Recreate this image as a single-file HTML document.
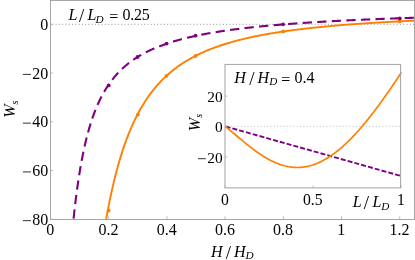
<!DOCTYPE html>
<html><head><meta charset="utf-8"><title>plot</title>
<style>
html,body{margin:0;padding:0;background:#fff;}
body{width:415px;height:260px;position:relative;overflow:hidden;font-family:"Liberation Serif",serif;}
svg text{font-family:"Liberation Serif",serif;fill:#000;}
</style></head><body>
<svg width="415" height="260" viewBox="0 0 415 260" style="position:absolute;left:0;top:0;will-change:transform;">
<defs><clipPath id="cm"><rect x="50.5" y="0.5" width="364.0" height="219.0"/></clipPath><clipPath id="ci"><rect x="225.0" y="64.4" width="176.8" height="123.5"/></clipPath></defs>
<line x1="50.5" y1="24.3" x2="414.5" y2="24.3" stroke="#929292" stroke-width="1" stroke-dasharray="1 2.28" stroke-dashoffset="1.45"/>
<g clip-path="url(#cm)" fill="none">
<path d="M72.25,232.11 L72.94,224.98 L73.63,218.24 L74.32,211.85 L75.00,205.79 L75.69,200.05 L76.38,194.60 L77.07,189.42 L77.76,184.49 L78.45,179.80 L79.14,175.33 L79.83,171.07 L80.51,167.01 L81.20,163.12 L81.89,159.41 L82.58,155.86 L83.27,152.46 L83.96,149.20 L84.65,146.07 L85.33,143.07 L86.02,140.19 L86.71,137.43 L87.40,134.77 L88.09,132.21 L88.78,129.74 L89.47,127.37 L90.16,125.08 L90.84,122.87 L91.53,120.74 L92.22,118.69 L92.91,116.70 L93.60,114.78 L94.29,112.92 L94.98,111.12 L95.67,109.38 L96.35,107.70 L97.04,106.07 L97.73,104.48 L98.42,102.95 L99.11,101.46 L99.80,100.01 L100.49,98.61 L101.17,97.25 L101.86,95.92 L102.55,94.63 L103.24,93.38 L103.93,92.16 L104.62,90.98 L105.31,89.82 L106.00,88.70 L106.68,87.60 L107.37,86.54 L108.06,85.50 L108.75,84.48 L109.44,83.49 L110.13,82.53 L110.82,81.59 L111.50,80.67 L112.19,79.77 L112.88,78.90 L113.57,78.04 L114.26,77.20 L114.95,76.38 L115.64,75.58 L116.33,74.80 L117.01,74.04 L117.70,73.29 L118.39,72.56 L119.08,71.84 L119.77,71.14 L120.46,70.45 L121.15,69.78 L121.83,69.12 L122.52,68.47 L123.21,67.84 L123.90,67.22 L124.59,66.61 L125.28,66.02 L125.97,65.43 L126.66,64.86 L127.34,64.30 L128.03,63.74 L128.72,63.20 L129.41,62.67 L130.10,62.15 L130.79,61.63 L131.48,61.13 L132.16,60.64 L132.85,60.15 L133.54,59.67 L134.23,59.20 L134.92,58.74 L135.61,58.29 L136.30,57.84 L136.99,57.41 L137.67,56.97 L138.36,56.55 L139.05,56.13 L139.74,55.72 L140.43,55.32 L141.12,54.92 L141.81,54.53 L142.50,54.15 L143.18,53.77 L143.87,53.40 L144.56,53.03 L145.25,52.67 L145.94,52.31 L146.63,51.96 L147.32,51.62 L148.00,51.28 L148.69,50.94 L149.38,50.61 L150.07,50.29 L150.76,49.97 L151.45,49.65 L152.14,49.34 L152.83,49.03 L153.51,48.73 L154.20,48.43 L154.89,48.14 L155.58,47.85 L156.27,47.56 L156.96,47.28 L157.65,47.00 L158.33,46.72 L159.02,46.45 L159.71,46.18 L160.40,45.92 L161.09,45.66 L161.78,45.40 L162.47,45.15 L163.16,44.90 L163.84,44.65 L164.53,44.41 L165.22,44.16 L165.91,43.93 L166.60,43.69 L167.29,43.46 L167.98,43.23 L168.66,43.00 L169.35,42.78 L170.04,42.56 L170.73,42.34 L171.42,42.12 L172.11,41.91 L172.80,41.70 L173.49,41.49 L174.17,41.28 L174.86,41.08 L175.55,40.88 L176.24,40.68 L176.93,40.48 L177.62,40.28 L178.31,40.09 L178.99,39.90 L179.68,39.71 L180.37,39.53 L181.06,39.34 L181.75,39.16 L182.44,38.98 L183.13,38.80 L183.82,38.63 L184.50,38.45 L185.19,38.28 L185.88,38.11 L186.57,37.94 L187.26,37.77 L187.95,37.61 L188.64,37.45 L189.33,37.28 L190.01,37.12 L190.70,36.96 L191.39,36.81 L192.08,36.65 L192.77,36.50 L193.46,36.35 L194.15,36.20 L194.83,36.05 L195.52,35.90 L196.21,35.75 L196.90,35.61 L197.59,35.46 L198.28,35.32 L198.97,35.18 L199.66,35.04 L200.34,34.90 L201.03,34.77 L201.72,34.63 L202.41,34.50 L203.10,34.36 L203.79,34.23 L204.48,34.10 L205.16,33.97 L205.85,33.85 L206.54,33.72 L207.23,33.59 L207.92,33.47 L208.61,33.34 L209.30,33.22 L209.99,33.10 L210.67,32.98 L211.36,32.86 L212.05,32.74 L212.74,32.63 L213.43,32.51 L214.12,32.40 L214.81,32.28 L215.49,32.17 L216.18,32.06 L216.87,31.95 L217.56,31.84 L218.25,31.73 L218.94,31.62 L219.63,31.51 L220.32,31.41 L221.00,31.30 L221.69,31.20 L222.38,31.09 L223.07,30.99 L223.76,30.89 L224.45,30.79 L225.14,30.68 L225.83,30.59 L226.51,30.49 L227.20,30.39 L227.89,30.29 L228.58,30.20 L229.27,30.10 L229.96,30.00 L230.65,29.91 L231.33,29.82 L232.02,29.72 L232.71,29.63 L233.40,29.54 L234.09,29.45 L234.78,29.36 L235.47,29.27 L236.16,29.18 L236.84,29.10 L237.53,29.01 L238.22,28.92 L238.91,28.84 L239.60,28.75 L240.29,28.67 L240.98,28.58 L241.66,28.50 L242.35,28.42 L243.04,28.34 L243.73,28.25 L244.42,28.17 L245.11,28.09 L245.80,28.01 L246.49,27.93 L247.17,27.86 L247.86,27.78 L248.55,27.70 L249.24,27.62 L249.93,27.55 L250.62,27.47 L251.31,27.40 L251.99,27.32 L252.68,27.25 L253.37,27.18 L254.06,27.10 L254.75,27.03 L255.44,26.96 L256.13,26.89 L256.82,26.81 L257.50,26.74 L258.19,26.67 L258.88,26.60 L259.57,26.54 L260.26,26.47 L260.95,26.40 L261.64,26.33 L262.32,26.26 L263.01,26.20 L263.70,26.13 L264.39,26.06 L265.08,26.00 L265.77,25.93 L266.46,25.87 L267.15,25.80 L267.83,25.74 L268.52,25.68 L269.21,25.61 L269.90,25.55 L270.59,25.49 L271.28,25.43 L271.97,25.37 L272.66,25.31 L273.34,25.25 L274.03,25.18 L274.72,25.13 L275.41,25.07 L276.10,25.01 L276.79,24.95 L277.48,24.89 L278.16,24.83 L278.85,24.77 L279.54,24.72 L280.23,24.66 L280.92,24.60 L281.61,24.55 L282.30,24.49 L282.99,24.44 L283.67,24.38 L284.36,24.33 L285.05,24.27 L285.74,24.22 L286.43,24.16 L287.12,24.11 L287.81,24.06 L288.49,24.00 L289.18,23.95 L289.87,23.90 L290.56,23.85 L291.25,23.79 L291.94,23.74 L292.63,23.69 L293.32,23.64 L294.00,23.59 L294.69,23.54 L295.38,23.49 L296.07,23.44 L296.76,23.39 L297.45,23.34 L298.14,23.29 L298.82,23.25 L299.51,23.20 L300.20,23.15 L300.89,23.10 L301.58,23.05 L302.27,23.01 L302.96,22.96 L303.65,22.91 L304.33,22.87 L305.02,22.82 L305.71,22.78 L306.40,22.73 L307.09,22.68 L307.78,22.64 L308.47,22.59 L309.16,22.55 L309.84,22.51 L310.53,22.46 L311.22,22.42 L311.91,22.37 L312.60,22.33 L313.29,22.29 L313.98,22.24 L314.66,22.20 L315.35,22.16 L316.04,22.12 L316.73,22.08 L317.42,22.03 L318.11,21.99 L318.80,21.95 L319.49,21.91 L320.17,21.87 L320.86,21.83 L321.55,21.79 L322.24,21.75 L322.93,21.71 L323.62,21.67 L324.31,21.63 L324.99,21.59 L325.68,21.55 L326.37,21.51 L327.06,21.47 L327.75,21.43 L328.44,21.39 L329.13,21.36 L329.82,21.32 L330.50,21.28 L331.19,21.24 L331.88,21.20 L332.57,21.17 L333.26,21.13 L333.95,21.09 L334.64,21.06 L335.32,21.02 L336.01,20.98 L336.70,20.95 L337.39,20.91 L338.08,20.88 L338.77,20.84 L339.46,20.80 L340.15,20.77 L340.83,20.73 L341.52,20.70 L342.21,20.66 L342.90,20.63 L343.59,20.59 L344.28,20.56 L344.97,20.53 L345.65,20.49 L346.34,20.46 L347.03,20.42 L347.72,20.39 L348.41,20.36 L349.10,20.32 L349.79,20.29 L350.48,20.26 L351.16,20.23 L351.85,20.19 L352.54,20.16 L353.23,20.13 L353.92,20.10 L354.61,20.06 L355.30,20.03 L355.99,20.00 L356.67,19.97 L357.36,19.94 L358.05,19.91 L358.74,19.88 L359.43,19.84 L360.12,19.81 L360.81,19.78 L361.49,19.75 L362.18,19.72 L362.87,19.69 L363.56,19.66 L364.25,19.63 L364.94,19.60 L365.63,19.57 L366.32,19.54 L367.00,19.51 L367.69,19.48 L368.38,19.45 L369.07,19.43 L369.76,19.40 L370.45,19.37 L371.14,19.34 L371.82,19.31 L372.51,19.28 L373.20,19.25 L373.89,19.23 L374.58,19.20 L375.27,19.17 L375.96,19.14 L376.65,19.11 L377.33,19.09 L378.02,19.06 L378.71,19.03 L379.40,19.00 L380.09,18.98 L380.78,18.95 L381.47,18.92 L382.15,18.90 L382.84,18.87 L383.53,18.84 L384.22,18.82 L384.91,18.79 L385.60,18.76 L386.29,18.74 L386.98,18.71 L387.66,18.69 L388.35,18.66 L389.04,18.64 L389.73,18.61 L390.42,18.58 L391.11,18.56 L391.80,18.53 L392.48,18.51 L393.17,18.48 L393.86,18.46 L394.55,18.43 L395.24,18.41 L395.93,18.38 L396.62,18.36 L397.31,18.34 L397.99,18.31 L398.68,18.29 L399.37,18.26 L400.06,18.24 L400.75,18.21 L401.44,18.19 L402.13,18.17 L402.82,18.14 L403.50,18.12 L404.19,18.10 L404.88,18.07 L405.57,18.05 L406.26,18.03 L406.95,18.00 L407.64,17.98 L408.32,17.96 L409.01,17.93 L409.70,17.91 L410.39,17.89 L411.08,17.87 L411.77,17.84 L412.46,17.82 L413.15,17.80 L413.83,17.78 L414.52,17.75 L415.21,17.73 L415.90,17.71" stroke="#800080" stroke-width="2.1" stroke-dasharray="9.3 5.287" stroke-dashoffset="1.08"/>
<path d="M104.15,230.73 L104.93,226.07 L105.71,221.56 L106.49,217.18 L107.28,212.94 L108.06,208.83 L108.84,204.84 L109.62,200.97 L110.40,197.21 L111.18,193.57 L111.96,190.03 L112.74,186.60 L113.53,183.26 L114.31,180.02 L115.09,176.87 L115.87,173.80 L116.65,170.83 L117.43,167.93 L118.21,165.12 L119.00,162.38 L119.78,159.72 L120.56,157.12 L121.34,154.60 L122.12,152.14 L122.90,149.75 L123.68,147.42 L124.46,145.15 L125.25,142.93 L126.03,140.77 L126.81,138.67 L127.59,136.62 L128.37,134.62 L129.15,132.67 L129.93,130.76 L130.72,128.91 L131.50,127.09 L132.28,125.32 L133.06,123.59 L133.84,121.90 L134.62,120.25 L135.40,118.64 L136.18,117.07 L136.97,115.53 L137.75,114.03 L138.53,112.56 L139.31,111.12 L140.09,109.71 L140.87,108.34 L141.65,106.99 L142.44,105.68 L143.22,104.39 L144.00,103.13 L144.78,101.89 L145.56,100.68 L146.34,99.50 L147.12,98.34 L147.90,97.20 L148.69,96.09 L149.47,95.00 L150.25,93.93 L151.03,92.89 L151.81,91.86 L152.59,90.86 L153.37,89.87 L154.16,88.90 L154.94,87.95 L155.72,87.02 L156.50,86.11 L157.28,85.21 L158.06,84.34 L158.84,83.47 L159.62,82.63 L160.41,81.80 L161.19,80.98 L161.97,80.18 L162.75,79.39 L163.53,78.62 L164.31,77.86 L165.09,77.12 L165.87,76.38 L166.66,75.67 L167.44,74.96 L168.22,74.26 L169.00,73.58 L169.78,72.91 L170.56,72.25 L171.34,71.60 L172.13,70.96 L172.91,70.34 L173.69,69.72 L174.47,69.11 L175.25,68.52 L176.03,67.93 L176.81,67.35 L177.59,66.78 L178.38,66.22 L179.16,65.67 L179.94,65.13 L180.72,64.60 L181.50,64.07 L182.28,63.56 L183.06,63.05 L183.85,62.55 L184.63,62.05 L185.41,61.57 L186.19,61.09 L186.97,60.62 L187.75,60.15 L188.53,59.70 L189.31,59.25 L190.10,58.80 L190.88,58.36 L191.66,57.93 L192.44,57.51 L193.22,57.09 L194.00,56.68 L194.78,56.27 L195.57,55.87 L196.35,55.47 L197.13,55.08 L197.91,54.70 L198.69,54.32 L199.47,53.94 L200.25,53.57 L201.03,53.21 L201.82,52.85 L202.60,52.50 L203.38,52.15 L204.16,51.80 L204.94,51.46 L205.72,51.13 L206.50,50.80 L207.29,50.47 L208.07,50.15 L208.85,49.83 L209.63,49.51 L210.41,49.20 L211.19,48.90 L211.97,48.60 L212.75,48.30 L213.54,48.00 L214.32,47.71 L215.10,47.42 L215.88,47.14 L216.66,46.86 L217.44,46.58 L218.22,46.31 L219.01,46.04 L219.79,45.77 L220.57,45.51 L221.35,45.25 L222.13,44.99 L222.91,44.74 L223.69,44.49 L224.47,44.24 L225.26,43.99 L226.04,43.75 L226.82,43.51 L227.60,43.27 L228.38,43.04 L229.16,42.81 L229.94,42.58 L230.73,42.35 L231.51,42.13 L232.29,41.91 L233.07,41.69 L233.85,41.47 L234.63,41.26 L235.41,41.05 L236.19,40.84 L236.98,40.63 L237.76,40.43 L238.54,40.23 L239.32,40.03 L240.10,39.83 L240.88,39.63 L241.66,39.44 L242.45,39.25 L243.23,39.06 L244.01,38.87 L244.79,38.69 L245.57,38.50 L246.35,38.32 L247.13,38.14 L247.91,37.96 L248.70,37.79 L249.48,37.61 L250.26,37.44 L251.04,37.27 L251.82,37.10 L252.60,36.94 L253.38,36.77 L254.17,36.61 L254.95,36.44 L255.73,36.28 L256.51,36.13 L257.29,35.97 L258.07,35.81 L258.85,35.66 L259.63,35.51 L260.42,35.35 L261.20,35.20 L261.98,35.06 L262.76,34.91 L263.54,34.76 L264.32,34.62 L265.10,34.48 L265.88,34.34 L266.67,34.20 L267.45,34.06 L268.23,33.92 L269.01,33.79 L269.79,33.65 L270.57,33.52 L271.35,33.39 L272.14,33.25 L272.92,33.12 L273.70,33.00 L274.48,32.87 L275.26,32.74 L276.04,32.62 L276.82,32.49 L277.60,32.37 L278.39,32.25 L279.17,32.13 L279.95,32.01 L280.73,31.89 L281.51,31.77 L282.29,31.66 L283.07,31.54 L283.86,31.43 L284.64,31.31 L285.42,31.20 L286.20,31.09 L286.98,30.98 L287.76,30.87 L288.54,30.76 L289.32,30.66 L290.11,30.55 L290.89,30.44 L291.67,30.34 L292.45,30.23 L293.23,30.13 L294.01,30.03 L294.79,29.93 L295.58,29.83 L296.36,29.73 L297.14,29.63 L297.92,29.53 L298.70,29.43 L299.48,29.34 L300.26,29.24 L301.04,29.15 L301.83,29.05 L302.61,28.96 L303.39,28.87 L304.17,28.78 L304.95,28.68 L305.73,28.59 L306.51,28.50 L307.30,28.42 L308.08,28.33 L308.86,28.24 L309.64,28.15 L310.42,28.07 L311.20,27.98 L311.98,27.90 L312.76,27.81 L313.55,27.73 L314.33,27.65 L315.11,27.56 L315.89,27.48 L316.67,27.40 L317.45,27.32 L318.23,27.24 L319.02,27.16 L319.80,27.09 L320.58,27.01 L321.36,26.93 L322.14,26.85 L322.92,26.78 L323.70,26.70 L324.48,26.63 L325.27,26.55 L326.05,26.48 L326.83,26.41 L327.61,26.33 L328.39,26.26 L329.17,26.19 L329.95,26.12 L330.74,26.05 L331.52,25.98 L332.30,25.91 L333.08,25.84 L333.86,25.77 L334.64,25.70 L335.42,25.63 L336.20,25.57 L336.99,25.50 L337.77,25.43 L338.55,25.37 L339.33,25.30 L340.11,25.24 L340.89,25.17 L341.67,25.11 L342.46,25.05 L343.24,24.98 L344.02,24.92 L344.80,24.86 L345.58,24.80 L346.36,24.73 L347.14,24.67 L347.92,24.61 L348.71,24.55 L349.49,24.49 L350.27,24.43 L351.05,24.38 L351.83,24.32 L352.61,24.26 L353.39,24.20 L354.18,24.14 L354.96,24.09 L355.74,24.03 L356.52,23.97 L357.30,23.92 L358.08,23.86 L358.86,23.81 L359.64,23.75 L360.43,23.70 L361.21,23.65 L361.99,23.59 L362.77,23.54 L363.55,23.49 L364.33,23.43 L365.11,23.38 L365.89,23.33 L366.68,23.28 L367.46,23.23 L368.24,23.18 L369.02,23.12 L369.80,23.07 L370.58,23.02 L371.36,22.97 L372.15,22.93 L372.93,22.88 L373.71,22.83 L374.49,22.78 L375.27,22.73 L376.05,22.68 L376.83,22.64 L377.61,22.59 L378.40,22.54 L379.18,22.50 L379.96,22.45 L380.74,22.40 L381.52,22.36 L382.30,22.31 L383.08,22.27 L383.87,22.22 L384.65,22.18 L385.43,22.13 L386.21,22.09 L386.99,22.04 L387.77,22.00 L388.55,21.96 L389.33,21.91 L390.12,21.87 L390.90,21.83 L391.68,21.79 L392.46,21.74 L393.24,21.70 L394.02,21.66 L394.80,21.62 L395.59,21.58 L396.37,21.54 L397.15,21.50 L397.93,21.46 L398.71,21.42 L399.49,21.38 L400.27,21.34 L401.05,21.30 L401.84,21.26 L402.62,21.22 L403.40,21.18 L404.18,21.14 L404.96,21.10 L405.74,21.07 L406.52,21.03 L407.31,20.99 L408.09,20.95 L408.87,20.92 L409.65,20.88 L410.43,20.84 L411.21,20.80 L411.99,20.77 L412.77,20.73 L413.56,20.70 L414.34,20.66 L415.12,20.62 L415.90,20.59" stroke="#ff8000" stroke-width="1.9"/>
<circle cx="108.6" cy="210.6" r="1.9" fill="#ff8000"/>
<circle cx="137.9" cy="114.7" r="1.9" fill="#ff8000"/>
<circle cx="166.5" cy="75.8" r="1.9" fill="#ff8000"/>
<circle cx="195.6" cy="56.0" r="1.9" fill="#ff8000"/>
<circle cx="283.1" cy="31.4" r="1.9" fill="#ff8000"/>
<circle cx="399.5" cy="21.3" r="1.9" fill="#ff8000"/>
<circle cx="108.7" cy="85.4" r="1.9" fill="#800080"/>
<circle cx="137.5" cy="57.0" r="1.9" fill="#800080"/>
<circle cx="166.6" cy="43.6" r="1.9" fill="#800080"/>
<circle cx="195.6" cy="35.7" r="1.9" fill="#800080"/>
<circle cx="283.1" cy="24.3" r="1.9" fill="#800080"/>
<circle cx="399.8" cy="18.4" r="1.9" fill="#800080"/>
</g>
<rect x="50.5" y="0.5" width="364.0" height="219.0" fill="none" stroke="#9c9c9c" stroke-width="0.9"/>
<line x1="50.50" y1="219.5" x2="50.50" y2="216.3" stroke="#aaa" stroke-width="0.8"/>
<line x1="108.70" y1="219.5" x2="108.70" y2="216.3" stroke="#aaa" stroke-width="0.8"/>
<line x1="166.90" y1="219.5" x2="166.90" y2="216.3" stroke="#aaa" stroke-width="0.8"/>
<line x1="225.10" y1="219.5" x2="225.10" y2="216.3" stroke="#aaa" stroke-width="0.8"/>
<line x1="283.30" y1="219.5" x2="283.30" y2="216.3" stroke="#aaa" stroke-width="0.8"/>
<line x1="341.50" y1="219.5" x2="341.50" y2="216.3" stroke="#aaa" stroke-width="0.8"/>
<line x1="399.70" y1="219.5" x2="399.70" y2="216.3" stroke="#aaa" stroke-width="0.8"/>
<line x1="50.5" y1="24.30" x2="53.0" y2="24.30" stroke="#aaa" stroke-width="0.8"/>
<line x1="50.5" y1="73.05" x2="53.0" y2="73.05" stroke="#aaa" stroke-width="0.8"/>
<line x1="50.5" y1="121.80" x2="53.0" y2="121.80" stroke="#aaa" stroke-width="0.8"/>
<line x1="50.5" y1="170.55" x2="53.0" y2="170.55" stroke="#aaa" stroke-width="0.8"/>
<line x1="50.5" y1="219.30" x2="53.0" y2="219.30" stroke="#aaa" stroke-width="0.8"/>
<rect x="187.0" y="62.400000000000006" width="217.60000000000002" height="149.5" fill="#fff"/>
<line x1="225.0" y1="126.3" x2="400.6" y2="126.3" stroke="#b4b4b4" stroke-width="0.9" stroke-dasharray="1 2.29" stroke-dashoffset="0.6"/>
<g clip-path="url(#ci)" fill="none">
<path d="M225.00,126.30 L313.00,151.14 L401.00,175.98" stroke="#800080" stroke-width="1.9" stroke-dasharray="5 2.045" stroke-dashoffset="-0.6"/>
<path d="M225.00,126.30 L225.89,127.00 L226.77,127.70 L227.66,128.41 L228.55,129.13 L229.44,129.85 L230.32,130.58 L231.21,131.31 L232.10,132.05 L232.98,132.78 L233.87,133.52 L234.76,134.26 L235.64,135.01 L236.53,135.75 L237.42,136.49 L238.31,137.23 L239.19,137.98 L240.08,138.72 L240.97,139.46 L241.85,140.19 L242.74,140.93 L243.63,141.66 L244.52,142.38 L245.40,143.11 L246.29,143.82 L247.18,144.54 L248.06,145.25 L248.95,145.95 L249.84,146.65 L250.73,147.34 L251.61,148.02 L252.50,148.69 L253.39,149.36 L254.27,150.02 L255.16,150.68 L256.05,151.32 L256.93,151.95 L257.82,152.58 L258.71,153.20 L259.60,153.80 L260.48,154.40 L261.37,154.98 L262.26,155.56 L263.14,156.12 L264.03,156.67 L264.92,157.22 L265.81,157.75 L266.69,158.26 L267.58,158.77 L268.47,159.26 L269.35,159.74 L270.24,160.21 L271.13,160.67 L272.01,161.11 L272.90,161.53 L273.79,161.95 L274.68,162.35 L275.56,162.74 L276.45,163.11 L277.34,163.47 L278.22,163.81 L279.11,164.14 L280.00,164.45 L280.89,164.75 L281.77,165.04 L282.66,165.31 L283.55,165.56 L284.43,165.80 L285.32,166.02 L286.21,166.23 L287.10,166.42 L287.98,166.60 L288.87,166.76 L289.76,166.90 L290.64,167.03 L291.53,167.14 L292.42,167.24 L293.30,167.32 L294.19,167.38 L295.08,167.43 L295.97,167.46 L296.85,167.48 L297.74,167.48 L298.63,167.46 L299.51,167.42 L300.40,167.37 L301.29,167.31 L302.18,167.22 L303.06,167.12 L303.95,167.01 L304.84,166.87 L305.72,166.72 L306.61,166.56 L307.50,166.38 L308.39,166.18 L309.27,165.96 L310.16,165.73 L311.05,165.48 L311.93,165.22 L312.82,164.94 L313.71,164.64 L314.59,164.33 L315.48,164.00 L316.37,163.66 L317.26,163.30 L318.14,162.92 L319.03,162.53 L319.92,162.12 L320.80,161.70 L321.69,161.26 L322.58,160.80 L323.47,160.33 L324.35,159.85 L325.24,159.35 L326.13,158.83 L327.01,158.30 L327.90,157.75 L328.79,157.19 L329.67,156.61 L330.56,156.02 L331.45,155.42 L332.34,154.80 L333.22,154.16 L334.11,153.51 L335.00,152.85 L335.88,152.17 L336.77,151.48 L337.66,150.78 L338.55,150.06 L339.43,149.33 L340.32,148.58 L341.21,147.82 L342.09,147.05 L342.98,146.27 L343.87,145.47 L344.76,144.66 L345.64,143.83 L346.53,143.00 L347.42,142.15 L348.30,141.29 L349.19,140.41 L350.08,139.53 L350.96,138.63 L351.85,137.72 L352.74,136.80 L353.63,135.87 L354.51,134.92 L355.40,133.97 L356.29,133.00 L357.17,132.03 L358.06,131.04 L358.95,130.04 L359.84,129.03 L360.72,128.01 L361.61,126.98 L362.50,125.94 L363.38,124.89 L364.27,123.83 L365.16,122.76 L366.04,121.69 L366.93,120.60 L367.82,119.50 L368.71,118.39 L369.59,117.28 L370.48,116.16 L371.37,115.02 L372.25,113.88 L373.14,112.73 L374.03,111.57 L374.92,110.41 L375.80,109.23 L376.69,108.05 L377.58,106.86 L378.46,105.66 L379.35,104.46 L380.24,103.25 L381.13,102.03 L382.01,100.80 L382.90,99.57 L383.79,98.33 L384.67,97.08 L385.56,95.82 L386.45,94.56 L387.33,93.30 L388.22,92.02 L389.11,90.74 L390.00,89.46 L390.88,88.17 L391.77,86.87 L392.66,85.56 L393.54,84.26 L394.43,82.94 L395.32,81.62 L396.21,80.30 L397.09,78.96 L397.98,77.63 L398.87,76.29 L399.75,74.94 L400.64,73.59 L401.53,72.23" stroke="#ff8000" stroke-width="1.7"/>
</g>
<rect x="225.0" y="64.4" width="175.60000000000002" height="123.5" fill="none" stroke="#a2a2a2" stroke-width="1"/>
<line x1="225.00" y1="187.9" x2="225.00" y2="185.6" stroke="#aaa" stroke-width="0.8"/>
<line x1="313.00" y1="187.9" x2="313.00" y2="185.6" stroke="#aaa" stroke-width="0.8"/>
<line x1="401.00" y1="187.9" x2="401.00" y2="185.6" stroke="#aaa" stroke-width="0.8"/>
<line x1="225.0" y1="96.1" x2="227.3" y2="96.1" stroke="#aaa" stroke-width="0.8"/>
<line x1="225.0" y1="126.4" x2="227.3" y2="126.4" stroke="#aaa" stroke-width="0.8"/>
<line x1="225.0" y1="157.0" x2="227.3" y2="157.0" stroke="#aaa" stroke-width="0.8"/>
<text x="50.3" y="235.3" font-size="16" text-anchor="middle">0</text>
<text x="108.5" y="235.3" font-size="16" text-anchor="middle">0.2</text>
<text x="166.7" y="235.3" font-size="16" text-anchor="middle">0.4</text>
<text x="224.9" y="235.3" font-size="16" text-anchor="middle">0.6</text>
<text x="283.1" y="235.3" font-size="16" text-anchor="middle">0.8</text>
<text x="341.3" y="235.3" font-size="16" text-anchor="middle">1</text>
<text x="399.5" y="235.3" font-size="16" text-anchor="middle">1.2</text>
<text x="48.2" y="29.7" font-size="16" text-anchor="end">0</text>
<text x="48.2" y="78.5" font-size="16" text-anchor="end">20</text>
<line x1="22.9" x2="30.9" y1="74.40" y2="74.40" stroke="#111" stroke-width="0.85"/>
<text x="48.2" y="127.2" font-size="16" text-anchor="end">40</text>
<line x1="22.9" x2="30.9" y1="123.15" y2="123.15" stroke="#111" stroke-width="0.85"/>
<text x="48.2" y="176.0" font-size="16" text-anchor="end">60</text>
<line x1="22.9" x2="30.9" y1="171.90" y2="171.90" stroke="#111" stroke-width="0.85"/>
<text x="48.2" y="224.7" font-size="16" text-anchor="end">80</text>
<line x1="22.9" x2="30.9" y1="220.65" y2="220.65" stroke="#111" stroke-width="0.85"/>
<text x="224.8" y="205.1" font-size="15.7" text-anchor="middle">0</text>
<text x="312.8" y="205.1" font-size="15.7" text-anchor="middle">0.5</text>
<text x="400.8" y="205.1" font-size="15.7" text-anchor="middle">1</text>
<text x="222.6" y="101.7" font-size="15.4" text-anchor="end">20</text>
<text x="222.6" y="132.1" font-size="15.4" text-anchor="end">0</text>
<text x="222.6" y="162.8" font-size="15.4" text-anchor="end">20</text>
<line x1="198.0" x2="205.8" y1="158.7" y2="158.7" stroke="#111" stroke-width="0.85"/>
<text x="68.5" y="20.2" font-size="16" text-anchor="start" font-style="italic">L</text>
<text x="78.9" y="22.3" font-size="19" text-anchor="start">/</text>
<text x="87.4" y="20.2" font-size="16" text-anchor="start" font-style="italic">L</text>
<text x="95.5" y="23.0" font-size="11.2" text-anchor="start" font-style="italic">D</text>
<text x="109.2" y="21.7" font-size="16" text-anchor="start">=</text>
<text x="122.4" y="20.2" font-size="16" letter-spacing="-0.2">0.25</text>
<text x="234.3" y="82.9" font-size="16" text-anchor="start" font-style="italic">H</text>
<text x="249.3" y="85.0" font-size="19" text-anchor="start">/</text>
<text x="257.6" y="82.9" font-size="16" text-anchor="start" font-style="italic">H</text>
<text x="269.2" y="85.30000000000001" font-size="11.2" text-anchor="start" font-style="italic">D</text>
<text x="281.2" y="85.10000000000001" font-size="16" text-anchor="start">=</text>
<text x="294.5" y="82.9" font-size="16" text-anchor="start">0.4</text>
<text x="210.9" y="256.7" font-size="16" text-anchor="start" font-style="italic">H</text>
<text x="225.8" y="258.8" font-size="19" text-anchor="start">/</text>
<text x="234.0" y="256.7" font-size="16" text-anchor="start" font-style="italic">H</text>
<text x="245.4" y="259.2" font-size="11.2" text-anchor="start" font-style="italic">D</text>
<text x="352.7" y="207.0" font-size="16" text-anchor="start" font-style="italic">L</text>
<text x="363.8" y="209.1" font-size="19" text-anchor="start">/</text>
<text x="372.4" y="207.0" font-size="16" text-anchor="start" font-style="italic">L</text>
<text x="381.2" y="209.6" font-size="11.2" text-anchor="start" font-style="italic">D</text>
<g transform="translate(15.4,117.8) rotate(-90)"><text x="0" y="0" font-size="16" font-style="italic">W</text><text x="13.2" y="2.4" font-size="10" font-style="italic">s</text></g>
<g transform="translate(199.8,131.3) rotate(-90)"><text x="0" y="0" font-size="16" font-style="italic">W</text><text x="13.5" y="2.4" font-size="10" font-style="italic">s</text></g>
</svg>
</body></html>
